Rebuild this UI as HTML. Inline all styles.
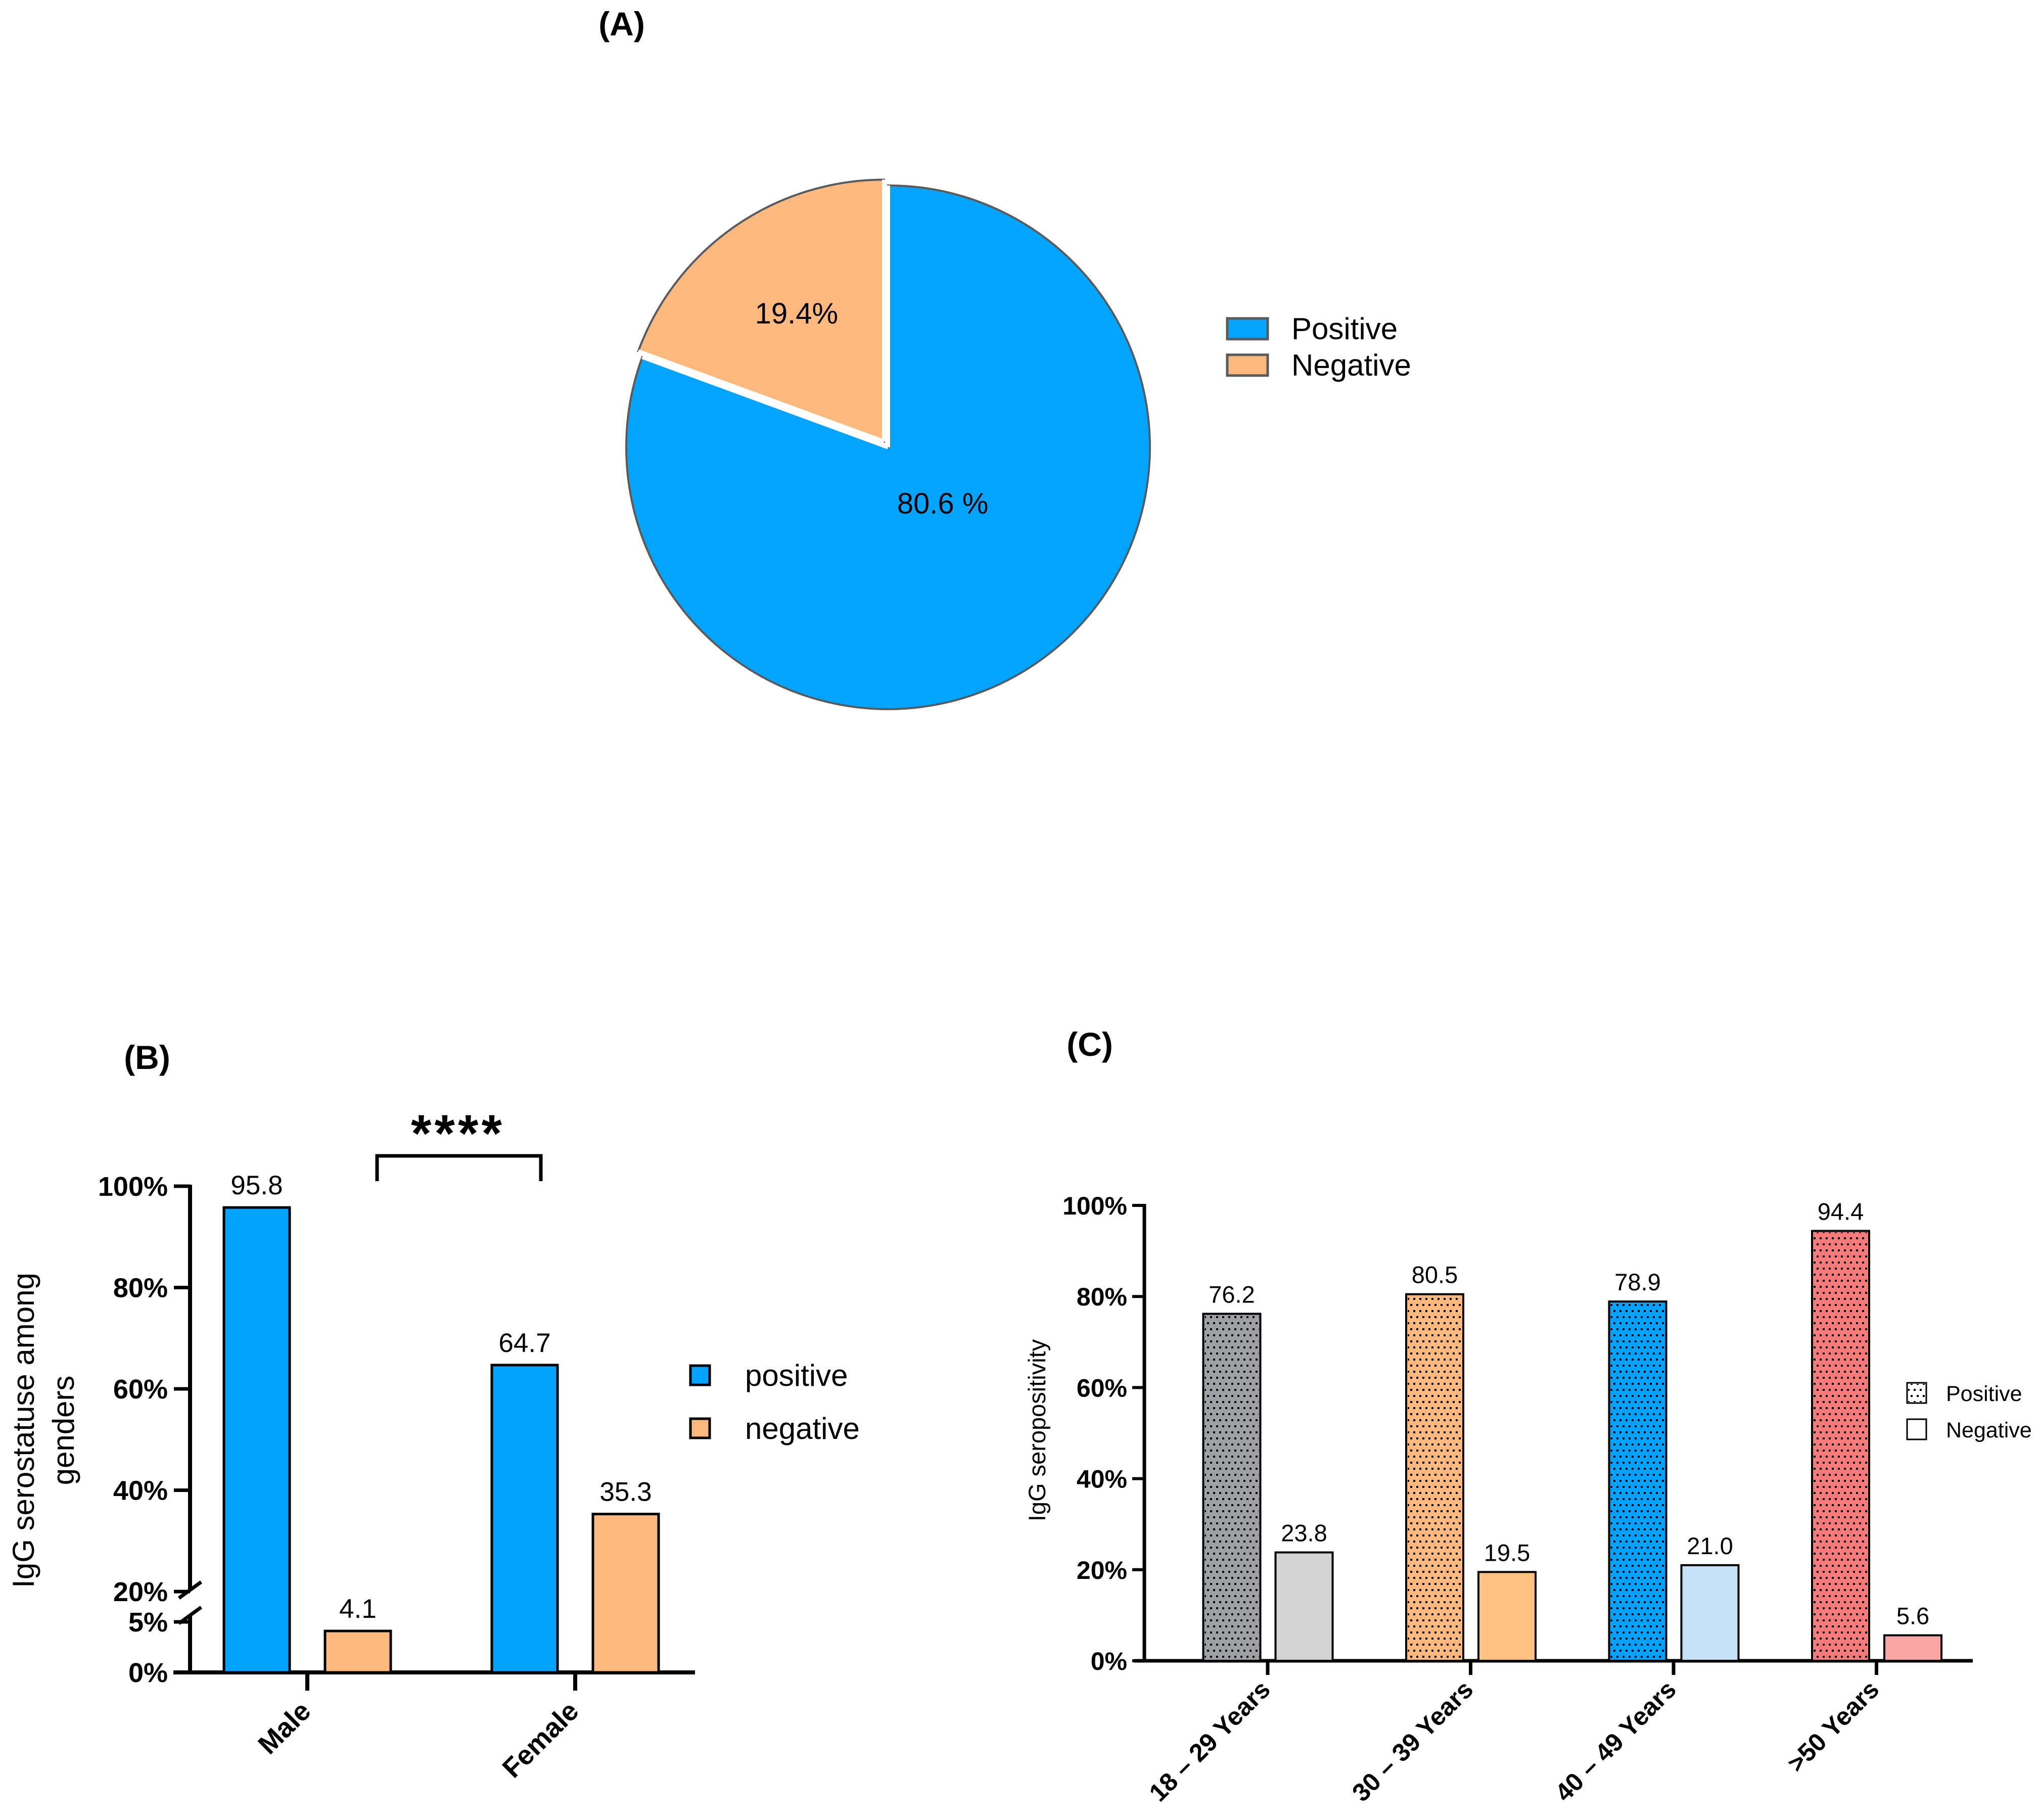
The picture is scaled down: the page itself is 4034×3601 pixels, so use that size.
<!DOCTYPE html>
<html><head><meta charset="utf-8"><style>
html,body{margin:0;padding:0;background:#fff}
svg{display:block}
text{font-family:"Liberation Sans",Arial,sans-serif}
.b{font-weight:bold}
</style></head><body>
<svg id="s" width="4034" height="3601" viewBox="0 0 4034 3601" xmlns="http://www.w3.org/2000/svg">
<defs>
<pattern id="dots" width="12" height="24" patternUnits="userSpaceOnUse">
<rect x="0" y="0" width="4" height="4" fill="#000"/>
<rect x="6" y="12" width="4" height="4" fill="#000"/>
</pattern>
</defs>
<text x="1230" y="70" font-size="66" class="b" text-anchor="middle">(A)</text>
<text x="291" y="2115" font-size="66" class="b" text-anchor="middle">(B)</text>
<text x="2156" y="2089" font-size="66" class="b" text-anchor="middle">(C)</text>
<g id="pie"></g>
<g id="gb"></g>
<g id="gc"></g>
</svg>
<script>
// Pie data
const pieLabels = ["Positive","Negative"];
const pieValues = [80.6, 19.4];
const pieText = ["80.6 %","19.4%"];
// Gender chart data
const genders = ["Male","Female"];
const genderPos = [95.8, 64.7];
const genderNeg = [4.1, 35.3];
const genderTicks = ["0%","5%","20%","40%","60%","80%","100%"];
const genderTickVals = [0,5,20,40,60,80,100];
// Age chart data
const ages = ["18 \u2013 29 Years","30 \u2013 39 Years","40 \u2013 49 Years",">50 Years"];
const agePos = [76.2, 80.5, 78.9, 94.4];
const ageNeg = [23.8, 19.5, 21.0, 5.6];
const ageTickVals = [0,20,40,60,80,100];

const NS="http://www.w3.org/2000/svg";
function mk(tag, attrs, parent){const e=document.createElementNS(NS,tag);for(const k in attrs)e.setAttribute(k,attrs[k]);parent.appendChild(e);return e;}
function txt(parent,x,y,s,size,opts){const e=mk('text',Object.assign({x:x,y:y,'font-size':size},opts||{}),parent);e.textContent=s;return e;}

// ---- Pie ----
(function(){
  const g=document.getElementById('pie');
  const cx=1757, cy=885, r=518;
  const total=pieValues.reduce((a,b)=>a+b,0);
  const cols=["#03a4fd","#fdb97d"];
  let a0=0;
  pieValues.forEach((v,i)=>{
    const a1=a0+v/total*2*Math.PI;
    const mid=(a0+a1)/2;
    const off=i===1?14:0;
    const ox=cx+off*Math.sin(mid), oy=cy-off*Math.cos(mid);
    const x0=ox+r*Math.sin(a0), y0=oy-r*Math.cos(a0);
    const x1=ox+r*Math.sin(a1), y1=oy-r*Math.cos(a1);
    const large=(a1-a0)>Math.PI?1:0;
    const p=mk('path',{d:`M${ox},${oy} L${x0},${y0} A${r},${r} 0 ${large} 1 ${x1},${y1} Z`,fill:cols[i],stroke:"#5a5a5a",'stroke-width':4},g);
    
    
    mk('line',{x1:ox,y1:oy,x2:x0,y2:y0,stroke:"#fff",'stroke-width':8},g);
    mk('line',{x1:ox,y1:oy,x2:x1,y2:y1,stroke:"#fff",'stroke-width':8},g);
    const lr=0.55;
    const lx=i===0?cx+108:ox+r*lr*Math.sin(mid)-10, ly=i===0?cy+111:oy-r*lr*Math.cos(mid)-20;
    const t=txt(g,lx,ly+20,pieText[i],58,{'text-anchor':'middle'});
    
    
    a0=a1;
  });
  pieLabels.forEach((l,i)=>{
    const y=630+i*72;
    const s=mk('rect',{x:2428,y:y,width:80,height:41,fill:cols[i],stroke:"#5a5a5a",'stroke-width':5},g);
    
    
    const t=txt(g,2555,y+41,l,60,{});
    
    
  });
})();

// ---- Gender chart (broken axis) ----
(function(){
  const g=document.getElementById('gb');
  const y0=3309;
  function yScale(v){ if(v<=5) return y0-v*20; return 3149-(v-20)*10.025; }
  const ax=376;
  mk('line',{x1:ax,y1:yScale(100)-3,x2:ax,y2:3146,stroke:"#000",'stroke-width':8},g);
  mk('line',{x1:ax,y1:3196,x2:ax,y2:y0,stroke:"#000",'stroke-width':8},g);
  mk('line',{x1:ax-22,y1:3162,x2:ax+22,y2:3130,stroke:"#000",'stroke-width':7},g);
  mk('line',{x1:ax-22,y1:3212,x2:ax+22,y2:3180,stroke:"#000",'stroke-width':7},g);
  const xa=mk('line',{x1:343,y1:y0,x2:1375,y2:y0,stroke:"#000",'stroke-width':8},g);
  
  
  genderTickVals.forEach((v,i)=>{
    const y=yScale(v);
    mk('line',{x1:ax-32,y1:y,x2:ax,y2:y,stroke:"#000",'stroke-width':7},g);
    const t=txt(g,332,y+19,genderTicks[i],54,{'text-anchor':'end','class':'b'});
    
    
  });
  const t1=mk('text',{transform:'translate(67,2830) rotate(-90)','font-size':60,'text-anchor':'middle'},g);
  t1.textContent="IgG serostatuse among";
  
  
  const t2=mk('text',{transform:'translate(146,2830) rotate(-90)','font-size':60,'text-anchor':'middle'},g);
  t2.textContent="genders";
  
  
  const ticks=[608,1138];
  const w=130;
  genders.forEach((c,i)=>{
    const tx=ticks[i];
    mk('line',{x1:tx,y1:y0,x2:tx,y2:y0+36,stroke:"#000",'stroke-width':8},g);
    [[genderPos[i],tx-100,"#03a2fd","positive"],[genderNeg[i],tx+100,"#fdb97d","negative"]].forEach(([v,cxb,col,nm])=>{
      const yt=yScale(v);
      const b=mk('rect',{x:cxb-w/2,y:yt,width:w,height:y0-yt,fill:col,stroke:"#000",'stroke-width':5},g);
      
      
      const l=txt(g,cxb,yt-26,v.toFixed(1),53,{'text-anchor':'middle'});
      
      
    });
    const xl=mk('text',{transform:`translate(${tx+10},${y0+80}) rotate(-45)`,'font-size':54,'text-anchor':'end','class':'b'},g);
    xl.textContent=c;
    
    
  });
  const br=mk('path',{d:"M746,2337 L746,2287 L1070,2287 L1070,2337",fill:"none",stroke:"#000",'stroke-width':7},g);
  
  
  const st=txt(g,906,2278,"****",104,{'text-anchor':'middle','class':'b','letter-spacing':'6'});
  
  
  const lg=[["positive","#03a2fd"],["negative","#fdb97d"]];
  lg.forEach(([n,col],i)=>{
    const y=2702+i*105;
    const s=mk('rect',{x:1366,y:y,width:38,height:38,fill:col,stroke:"#000",'stroke-width':5},g);
    
    
    const t=txt(g,1474,y+40,n,60,{});
    
    
  });
})();

// ---- Age chart ----
(function(){
  const g=document.getElementById('gc');
  const y0=3286, ax=2264;
  function yScale(v){ return y0-v*9.01; }
  mk('line',{x1:ax,y1:yScale(100)-3,x2:ax,y2:y0,stroke:"#000",'stroke-width':7},g);
  const xa=mk('line',{x1:2244,y1:y0,x2:3903,y2:y0,stroke:"#000",'stroke-width':7},g);
  
  
  ageTickVals.forEach(v=>{
    const y=yScale(v);
    mk('line',{x1:ax-24,y1:y,x2:ax,y2:y,stroke:"#000",'stroke-width':6},g);
    const t=txt(g,2230,y+18,v+"%",50,{'text-anchor':'end','class':'b'});
    
    
  });
  const yt=mk('text',{transform:'translate(2068,2830) rotate(-90)','font-size':47,'text-anchor':'middle'},g);
  yt.textContent="IgG seropositivity";
  
  
  const posCols=["#9fa0a4","#fdb97d","#03a2fd","#f77a7a"];
  const negCols=["#d4d4d4","#fec17f","#c6e2fb","#fca5a5"];
  const w=113;
  ages.forEach((c,i)=>{
    const tx=2508+i*401.5;
    mk('line',{x1:tx,y1:y0,x2:tx,y2:y0+28,stroke:"#000",'stroke-width':7},g);
    [[agePos[i],tx-71,posCols[i],"positive"],[ageNeg[i],tx+72,negCols[i],"negative"]].forEach(([v,cxb,col,nm])=>{
      const ytop=yScale(v);
      const b=mk('rect',{x:cxb-w/2,y:ytop,width:w,height:y0-ytop,fill:col,stroke:"#000",'stroke-width':4},g);
      
      
      if(nm==="positive") mk('rect',{x:cxb-w/2+3,y:ytop+3,width:w-6,height:y0-ytop-6,fill:"url(#dots)"},g);
      const l=txt(g,cxb,ytop-22,v.toFixed(1),47,{'text-anchor':'middle'});
      
      
    });
    const xl=mk('text',{transform:`translate(${tx+8},${y0+60}) rotate(-45)`,'font-size':50,'text-anchor':'end','class':'b'},g);
    xl.textContent=c;
    
    
  });
  [["Positive",true],["Negative",false]].forEach(([n,d],i)=>{
    const y=2736+i*72;
    const s=mk('rect',{x:3773,y:y,width:38,height:40,fill:"#fff",stroke:"#000",'stroke-width':3},g);
    
    
    if(d) mk('rect',{x:3775,y:y+2,width:34,height:36,fill:"url(#dots)"},g);
    const t=txt(g,3850,y+36,n,43,{});
    
    
  });
})();
</script>
</body></html>
